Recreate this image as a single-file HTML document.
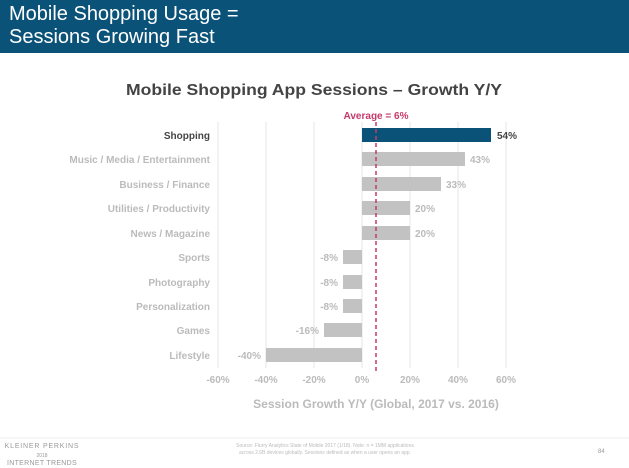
<!DOCTYPE html>
<html><head><style>
body{margin:0;width:629px;height:468px;background:#fff;overflow:hidden;font-family:"Liberation Sans",sans-serif;}
.hdr{position:absolute;left:0;top:0;width:629px;height:53px;background:#0b5279;}
.hdr div{position:absolute;left:9px;top:3px;color:#fff;font-size:20px;line-height:23px;}
</style></head><body>
<div class="hdr"><div>Mobile Shopping Usage =<br>Sessions Growing Fast</div></div>
<svg width="629" height="468" style="position:absolute;left:0;top:0">
<text x="314" y="95" text-anchor="middle" font-size="16" font-weight="bold" fill="#444" font-family="Liberation Sans" textLength="376" lengthAdjust="spacingAndGlyphs">Mobile Shopping App Sessions – Growth Y/Y</text>
<g stroke="#e4e4e4" stroke-width="1">
<line x1="218" y1="122" x2="218" y2="368"/><line x1="266" y1="122" x2="266" y2="368"/>
<line x1="314" y1="122" x2="314" y2="368"/><line x1="362" y1="122" x2="362" y2="368"/>
<line x1="410" y1="122" x2="410" y2="368"/><line x1="458" y1="122" x2="458" y2="368"/>
<line x1="506" y1="122" x2="506" y2="368"/>
</g>
<g font-family="Liberation Sans" font-size="10" font-weight="bold" fill="#bbb">
<rect x="362" y="128" width="129" height="14" fill="#0b5279"/>
<rect x="362" y="152" width="103" height="14" fill="#c2c2c2"/>
<rect x="362" y="177" width="79" height="14" fill="#c2c2c2"/>
<rect x="362" y="201" width="48" height="14" fill="#c2c2c2"/>
<rect x="362" y="226" width="48" height="14" fill="#c2c2c2"/>
<rect x="343" y="250" width="19" height="14" fill="#c2c2c2"/>
<rect x="343" y="275" width="19" height="14" fill="#c2c2c2"/>
<rect x="343" y="299" width="19" height="14" fill="#c2c2c2"/>
<rect x="324" y="323" width="38" height="14" fill="#c2c2c2"/>
<rect x="266" y="348" width="96" height="14" fill="#c2c2c2"/>
<g text-anchor="end">
<text x="210" y="139" fill="#444">Shopping</text>
<text x="210" y="163">Music / Media / Entertainment</text>
<text x="210" y="188">Business / Finance</text>
<text x="210" y="212">Utilities / Productivity</text>
<text x="210" y="237">News / Magazine</text>
<text x="210" y="261">Sports</text>
<text x="210" y="286">Photography</text>
<text x="210" y="310">Personalization</text>
<text x="210" y="334">Games</text>
<text x="210" y="359">Lifestyle</text>
<text x="338" y="261">-8%</text><text x="338" y="286">-8%</text><text x="338" y="310">-8%</text>
<text x="319" y="334">-16%</text><text x="261" y="359">-40%</text>
</g>
<text x="497" y="139" fill="#444">54%</text>
<text x="470" y="163">43%</text>
<text x="446" y="188">33%</text>
<text x="415" y="212">20%</text>
<text x="415" y="237">20%</text>
<g text-anchor="middle">
<text x="218" y="383">-60%</text><text x="266" y="383">-40%</text><text x="314" y="383">-20%</text>
<text x="362" y="383">0%</text><text x="410" y="383">20%</text><text x="458" y="383">40%</text><text x="506" y="383">60%</text>
<text x="376" y="119" fill="#c43a6a">Average = 6%</text>
</g>
<text x="376" y="408" text-anchor="middle" font-size="12" fill="#bbb">Session Growth Y/Y (Global, 2017 vs. 2016)</text>
</g>
<line x1="376" y1="122" x2="376" y2="372" stroke="#c43a6a" stroke-width="1.5" stroke-dasharray="4,3"/>
<line x1="0" y1="438" x2="629" y2="438" stroke="#eee"/>
<g font-family="Liberation Sans" fill="#999">
<text x="42" y="448" font-size="7" text-anchor="middle" letter-spacing="0.8">KLEINER PERKINS</text>
<text x="42" y="457" font-size="5" text-anchor="middle">2018</text>
<text x="42" y="465" font-size="7" text-anchor="middle" letter-spacing="0.3">INTERNET TRENDS</text>
<text x="325" y="447" font-size="5" text-anchor="middle" fill="#bbb">Source: Flurry Analytics State of Mobile 2017 (1/18). Note: n = 1MM applications</text>
<text x="325" y="454" font-size="5" text-anchor="middle" fill="#bbb">across 2.6B devices globally. Sessions defined as when a user opens an app.</text>
<text x="598" y="453" font-size="6">84</text>
</g>
</svg>
</body></html>
